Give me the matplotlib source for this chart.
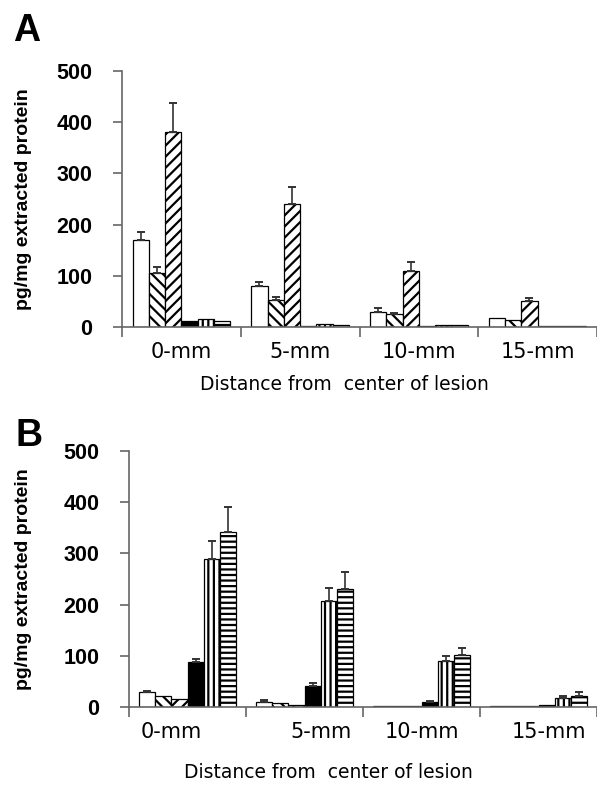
"""Cytokine levels by distance from lesion centre, panels A and B."""

import numpy as np
import matplotlib
matplotlib.use("Agg")
import matplotlib.pyplot as plt

plt.rcParams['font.family'] = ['Liberation Sans', 'DejaVu Sans']
plt.rcParams['hatch.linewidth'] = 1.6

distances = ["0-mm", "5-mm", "10-mm", "15-mm"]
series_styles = [
    ("white", ""),
    ("white", "\\\\\\"),
    ("white", "///"),
    ("black", ""),
    ("white", "|||"),
    ("white", "---"),
]

# panel A: mean values per series (rows) for each distance (columns)
a_white = [170, 80, 29, 17]
a_back = [105, 52, 25, 13]
a_fwd = [380, 240, 110, 50]
a_black = [12, 2, 2, 1]
a_vert = [15, 5, 3, 2]
a_horiz = [12, 4, 3, 2]
a_err_white = [15, 8, 8, 0]
a_err_back = [12, 6, 3, 0]
a_err_fwd = [57, 33, 17, 7]

# panel B
b_white = [30, 10, 2, 2]
b_back = [22, 7, 2, 2]
b_fwd = [16, 4, 2, 2]
b_black = [88, 41, 10, 3]
b_vert = [289, 207, 90, 17]
b_horiz = [342, 230, 102, 22]
b_err_white = [2, 4, 0, 0]
b_err_black = [6, 5, 2, 0]
b_err_vert = [35, 25, 10, 4]
b_err_horiz = [48, 33, 13, 7]

a_values = [a_white, a_back, a_fwd, a_black, a_vert, a_horiz]
a_errors = [a_err_white, a_err_back, a_err_fwd, None, None, None]
b_values = [b_white, b_back, b_fwd, b_black, b_vert, b_horiz]
b_errors = [b_err_white, None, None, b_err_black, b_err_vert, b_err_horiz]

W, H = 597, 785
fig = plt.figure(figsize=(W / 100, H / 100), dpi=100)

AXIS_GREY = "#666666"
BAR_W = 0.137
WIDE = ['DejaVu Sans']


def draw_panel(ax, values, errors, label_pos, xmax):
    groups = np.arange(len(distances))
    n = len(values)
    for i, (vals, (color, hatch)) in enumerate(zip(values, series_styles)):
        x = groups + 0.5 + (i - (n - 1) / 2) * BAR_W
        ax.bar(x, vals, width=BAR_W, color=color, hatch=hatch,
               edgecolor="black", linewidth=0.9, zorder=2)
        err = errors[i]
        if err is not None:
            err = np.array(err)
            keep = err > 0
            ax.errorbar(x[keep], np.array(vals)[keep],
                        yerr=[np.zeros(keep.sum()), err[keep]],
                        fmt="none", ecolor="#333333", elinewidth=1.2,
                        capsize=3, capthick=1.4, zorder=3)

    ax.set_xlim(0, xmax)
    ax.set_ylim(0, 500)
    ax.set_yticks([0, 100, 200, 300, 400, 500])
    ax.set_yticklabels(["0", "100", "200", "300", "400", "500"],
                       fontweight="bold", fontsize=15.5)
    ax.set_xticks(label_pos)
    ax.set_xticklabels(distances, fontsize=15, family=WIDE)
    ax.set_xticks(np.arange(0, 5), minor=True)
    ax.tick_params(axis="x", which="major", length=0, pad=11)
    ax.tick_params(axis="x", which="minor", length=7, width=1.2,
                   color=AXIS_GREY, direction="out")
    ax.tick_params(axis="y", length=6.5, width=1.2, color=AXIS_GREY, pad=15)
    for side in ("top", "right"):
        ax.spines[side].set_visible(False)
    for side in ("left", "bottom"):
        ax.spines[side].set_color(AXIS_GREY)
        ax.spines[side].set_linewidth(1.2)
    ax.set_ylabel("pg/mg extracted protein", fontsize=14, fontweight="bold")


# panel A axes: x 122..597, y 71..327
ax_a = fig.add_axes([122 / W, 1 - 327 / H, (597 - 122) / W, (327 - 71) / H])
draw_panel(ax_a, a_values, a_errors, [0.5, 1.5, 2.5, 3.5], 4.0)
ax_a.yaxis.set_label_coords((32 - 122) / (597 - 122), 0.5)

# panel B axes: x 129..597, y 451..707
ax_b = fig.add_axes([129 / W, 1 - 707 / H, (597 - 129) / W, (707 - 451) / H])
draw_panel(ax_b, b_values, b_errors, [0.36, 1.64, 2.5, 3.59], (597 - 129) / 119)
ax_b.yaxis.set_label_coords((32 - 129) / (597 - 129), 0.5)

fig.text(344 / W, 1 - 384 / H, "Distance from  center of lesion",
         fontsize=13.5, family=WIDE, ha="center", va="center")
fig.text(328 / W, 1 - 772 / H, "Distance from  center of lesion",
         fontsize=13.5, family=WIDE, ha="center", va="center")

fig.text(13 / W, 1 - 13 / H, "A", fontsize=27, fontweight="bold", va="top")
fig.text(16 / W, 1 - 418 / H, "B", fontsize=27, fontweight="bold", va="top")

fig.savefig("out.png", dpi=100)
